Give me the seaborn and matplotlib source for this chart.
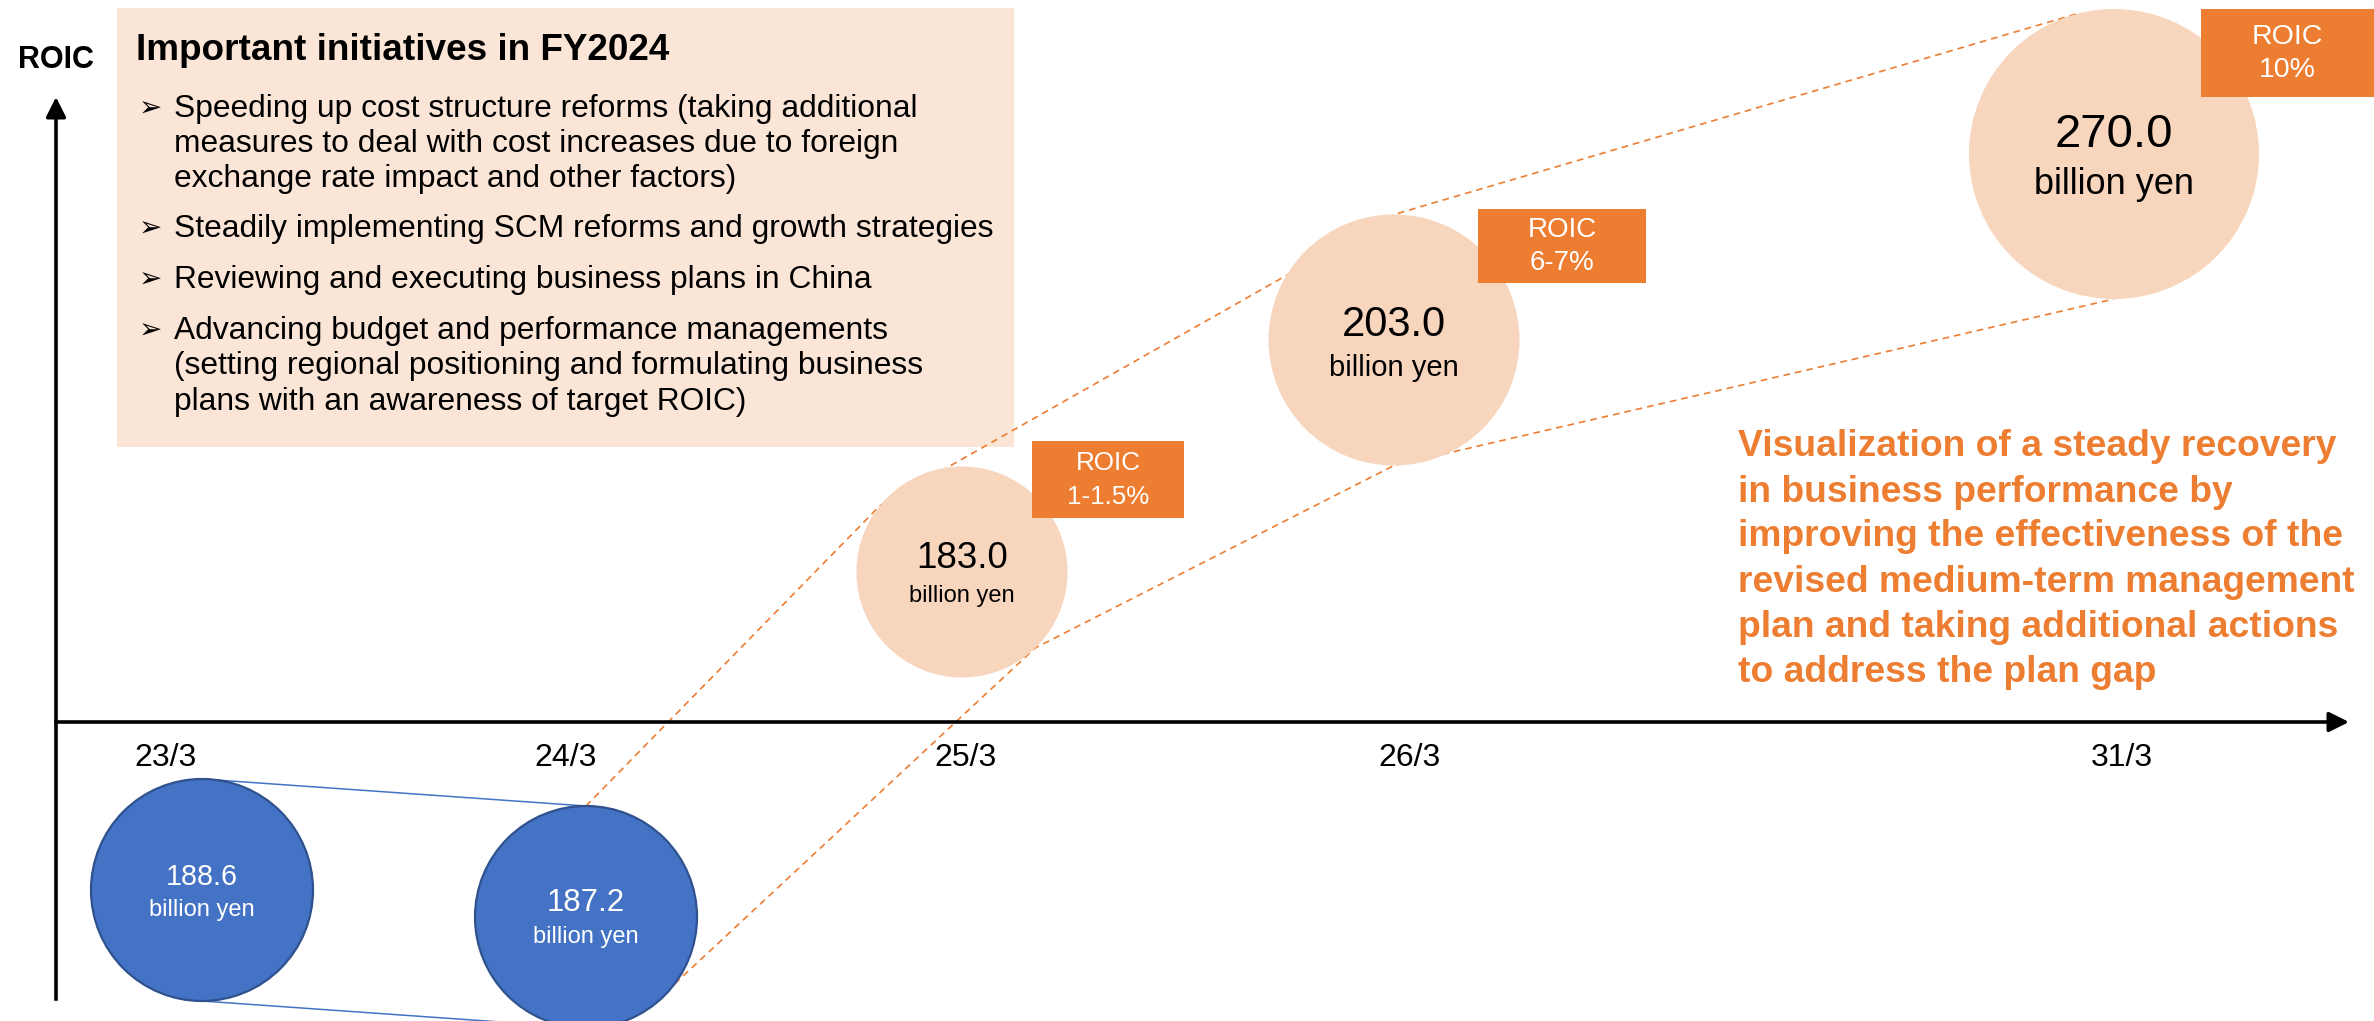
import numpy as np
import pandas as pd
import seaborn as sns
import matplotlib.pyplot as plt
from matplotlib.patches import Rectangle

# ---- chart data ----
periods = ['23/3', '24/3', '25/3', '26/3', '31/3']
sales = [188.6, 187.2, 183.0, 203.0, 270.0]        # billion yen
status = ['actual', 'actual', 'plan', 'plan', 'plan']
roic_target = ['', '', '1-1.5%', '6-7%', '10%']

box_title = 'Important initiatives in FY2024'
initiatives = [
    ['Speeding up cost structure reforms (taking additional',
     'measures to deal with cost increases due to foreign',
     'exchange rate impact and other factors)'],
    ['Steadily implementing SCM reforms and growth strategies'],
    ['Reviewing and executing business plans in China'],
    ['Advancing budget and performance managements',
     '(setting regional positioning and formulating business',
     'plans with an awareness of target ROIC)'],
]
message = ['Visualization of a steady recovery',
           'in business performance by',
           'improving the effectiveness of the',
           'revised medium-term management',
           'plan and taking additional actions',
           'to address the plan gap']

# ---- layout ----
W, H = 2374, 1021
OX, OY = 166, 722          # canvas pixel of axis point (0, 0)
SX, SY = 400, 100          # pixels per axis unit
tick_pos = [0, 1, 2.0, 3.11, 4.89]
bubble_x = [0.09, 1.05, 1.99, 3.07, 4.87]
bubble_y = [-1.68, -1.95, 1.50, 3.82, 5.68]
bubble_d = [222, 222, 211, 251, 290]               # px
num_fs = [20.7, 22.4, 26.5, 30, 34]
unit_fs = [17, 17, 17, 21, 26]
num_dy = [-13, -14, -14, -15, -19]
unit_dy = [20, 20, 24, 28, 31]
roic_box = {2: (70, -131, 152, 77, 18.7), 3: (84, -131, 168, 74, 20),
            4: (87, -145, 173, 88, 20.5)}
upper_ang = {1: 90, 2: 141, 3: 90, 4: 105}
lower_ang = {1: -37, 2: -46, 3: -90, 4: -90}

BLUE, BLUE_EDGE = '#4472C4', '#2F528F'
PEACH, PALE = '#F8D5BD', '#FBE5D6'
ORANGE = '#ED7D31'

sns.set_style('white')
plt.rcParams['font.family'] = ['Liberation Sans', 'DejaVu Sans']
plt.rcParams['text.color'] = 'black'

fig = plt.figure(figsize=(W / 100, H / 100), dpi=100)
ax = fig.add_axes([0, 0, 1, 1])
ax.set_facecolor('none')

df = pd.DataFrame({'period': periods, 'sales': sales, 'status': status,
                   'x': bubble_x, 'y': bubble_y,
                   's': [(0.72 * d) ** 2 for d in bubble_d]})

sns.scatterplot(data=df[df.status == 'actual'], x='x', y='y', size='period',
                sizes=dict(zip(df.period, df.s)), color=BLUE, edgecolor=BLUE_EDGE,
                linewidth=1.6, legend=False, ax=ax, zorder=3)
sns.scatterplot(data=df[df.status == 'plan'], x='x', y='y', size='period',
                sizes=dict(zip(df.period, df.s)), color=PEACH, edgecolor='none',
                legend=False, ax=ax, zorder=3)


def edge_pt(i, ang):
    r = bubble_d[i] / 2
    a = np.deg2rad(ang)
    return bubble_x[i] + r * np.cos(a) / SX, bubble_y[i] + r * np.sin(a) / SY


# blue connectors between actual bubbles
for ang in (90, -90):
    p0, p1 = edge_pt(0, ang), edge_pt(1, ang)
    ax.plot([p0[0], p1[0]], [p0[1], p1[1]], color=BLUE, lw=1.1, zorder=2)

# dashed funnel towards the plan
for angs in (upper_ang, lower_ang):
    pts = [edge_pt(i, a) for i, a in angs.items()]
    ax.plot([p[0] for p in pts], [p[1] for p in pts], color=ORANGE, lw=1.2,
            dashes=(4, 3), zorder=2)

# bubble labels
for i in range(len(periods)):
    tc = 'white' if status[i] == 'actual' else 'black'
    ax.text(bubble_x[i], bubble_y[i] - num_dy[i] / SY, f'{sales[i]:.1f}',
            ha='center', va='center', fontsize=num_fs[i], color=tc, zorder=4)
    ax.text(bubble_x[i], bubble_y[i] - unit_dy[i] / SY, 'billion yen',
            ha='center', va='center', fontsize=unit_fs[i], color=tc, zorder=4)

# ROIC target boxes
for i, (dx, dy, bw, bh, fs) in roic_box.items():
    left = bubble_x[i] + dx / SX
    top = bubble_y[i] - dy / SY
    ax.add_patch(Rectangle((left, top - bh / SY), bw / SX, bh / SY,
                           color=ORANGE, zorder=4, lw=0))
    cx, cy = left + bw / SX / 2, top - bh / SY / 2
    ax.text(cx, cy + 16 / SY, 'ROIC', ha='center', va='center', fontsize=fs,
            color='white', zorder=5)
    ax.text(cx, cy - 17 / SY, roic_target[i], ha='center', va='center',
            fontsize=fs, color='white', zorder=5)

# axes: ROIC vertical, time horizontal
x_left = (56 - OX) / SX
x_tip = (2349 - OX) / SX
y_bot = (OY - 999) / SY
y_tip = (OY - 97) / SY
for s in ('top', 'right'):
    ax.spines[s].set_visible(False)
ax.spines['bottom'].set_position(('data', 0))
ax.spines['left'].set_position(('data', x_left))
ax.spines['bottom'].set_bounds(x_left, x_tip - 0.03)
ax.spines['left'].set_bounds(y_bot, y_tip - 0.12)
for s in ('bottom', 'left'):
    ax.spines[s].set_linewidth(2.6)
    ax.spines[s].set_color('black')
ax.annotate('', xy=(x_tip, 0), xytext=(x_tip - 0.05, 0),
            arrowprops=dict(arrowstyle='-|>', color='black', lw=2.6,
                            mutation_scale=30, shrinkA=0, shrinkB=0))
ax.annotate('', xy=(x_left, y_tip), xytext=(x_left, y_tip - 0.2),
            arrowprops=dict(arrowstyle='-|>', color='black', lw=2.6,
                            mutation_scale=30, shrinkA=0, shrinkB=0))
ax.set_xticks(tick_pos, periods)
ax.set_yticks([])
ax.tick_params(axis='x', direction='inout', length=21.6, width=2.6, pad=4,
               labelsize=23, colors='black')
ax.set_xlabel('')
ax.set_ylabel('')
ax.set_xlim(-OX / SX, (W - OX) / SX)
ax.set_ylim((OY - H) / SY, OY / SY)


def ftxt(px, py, s, **kw):
    fig.text(px / W, 1 - py / H, s, **kw)


ftxt(56, 60, 'ROIC', ha='center', va='center', fontsize=22, fontweight='bold')

# initiatives panel
fig.add_artist(Rectangle((117 / W, 1 - 447 / H), (1014 - 117) / W, (447 - 8) / H,
                         transform=fig.transFigure, color=PALE, zorder=-1, lw=0))
ftxt(136, 50, box_title, ha='left', va='center', fontsize=26.6, fontweight='bold')
line_y = [[109, 144, 179], [229], [280], [331, 366, 402]]
for lines, ys in zip(initiatives, line_y):
    ftxt(139, ys[0], '\u27a2', ha='left', va='center', fontsize=20,
         family=['DejaVu Sans'])
    for t, y in zip(lines, ys):
        ftxt(174, y, t, ha='left', va='center', fontsize=22.9)

# message
for k, t in enumerate(message):
    ftxt(1738, 447 + 45 * k, t, ha='left', va='center', fontsize=26.8,
         fontweight='bold', color=ORANGE)

fig.savefig('out.png', dpi=100, facecolor='white')
